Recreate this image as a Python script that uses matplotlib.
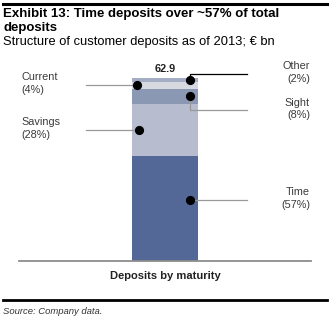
import matplotlib.pyplot as plt
import numpy as np
from matplotlib.lines import Line2D

# Data
TOTAL = 62.9
segments = ['Time', 'Savings', 'Sight', 'Current', 'Other']
shares = [57, 28, 8, 4, 2]   # % of total, bottom to top
colors = ['#536896', '#b7bccf', '#8a98b4', '#d6d9e0', '#a4adc3']

W, H = 330, 323
plt.rcParams['font.family'] = ['Liberation Sans', 'DejaVu Sans']

fig = plt.figure(figsize=(W / 100, H / 100), dpi=100)

def fx(x):
    return x / W

def fy(y):
    return 1 - y / H

# axes: x in pixel units, y in percent
ax = fig.add_axes([fx(19), fy(261), (311 - 19) / W, (261 - 78) / H])
ax.set_xlim(19, 311)
ax.set_ylim(0, sum(shares))
ax.axis('off')

bottoms = np.concatenate([[0], np.cumsum(shares)[:-1]])
ax.bar([165] * len(shares), shares, bottom=bottoms, width=66,
       color=colors, edgecolor='none', zorder=2)
ax.plot([19, 311], [0, 0], color='#8c8c8c', lw=1.3, clip_on=False, zorder=3)

# label layout: side, dot x, anchor fraction, line y offset (px)
px = sum(shares) / (261 - 78)
layout = {
    'Time':    ('right', 190, 0.58, 0),
    'Savings': ('left', 139, 0.5, 0),
    'Sight':   ('right', 190, 0.5, -14),
    'Current': ('left', 137, 0.5, 0),
    'Other':   ('right', 190, 0.5, 6),
}
for name, share, b in zip(segments, shares, bottoms):
    side, dx, frac, off = layout[name]
    dy = b + share * frac
    ly = dy + off * px
    lc = 'black' if name == 'Other' else '#999999'
    if side == 'left':
        ax.plot([86, dx], [ly, ly], color=lc, lw=0.9, clip_on=False, zorder=3)
        tx, ha = 21, 'left'
    else:
        ax.plot([dx, dx, 247], [dy, ly, ly], color=lc, lw=0.9,
                clip_on=False, zorder=3)
        tx, ha = 310, 'right'
    ax.plot(dx, dy, 'o', color='black', ms=5.6, clip_on=False, zorder=4)
    ax.text(tx, ly + 1.5 * px, f'{name}\n({share}%)', ha=ha, va='center',
            fontsize=7.8, color='#3a3a3a', linespacing=1.35)

ax.text(165, sum(shares) + 4 * px, f'{TOTAL}', ha='center', va='bottom',
        fontsize=7.8, fontweight='bold', color='#222222')

# titles and frame
fig.add_artist(Line2D([fx(3), fx(327)], [fy(4), fy(4)], color='black', lw=2.2))
fig.text(fx(3), fy(8), 'Exhibit 13: Time deposits over ~57% of total\ndeposits',
         ha='left', va='top', fontsize=9.5, fontweight='bold', linespacing=1.2)
fig.text(fx(3), fy(36.5), 'Structure of customer deposits as of 2013; € bn',
         ha='left', va='top', fontsize=9.3)
fig.text(fx(165), fy(276), 'Deposits by maturity', ha='center', va='center',
         fontsize=8, fontweight='bold', color='#222222')
fig.add_artist(Line2D([fx(3), fx(327)], [fy(300), fy(300)], color='black', lw=2))
fig.text(fx(3), fy(312), 'Source: Company data.', ha='left', va='center',
         fontsize=6.8, style='italic', color='#333333')

fig.savefig('out.png', dpi=100)
